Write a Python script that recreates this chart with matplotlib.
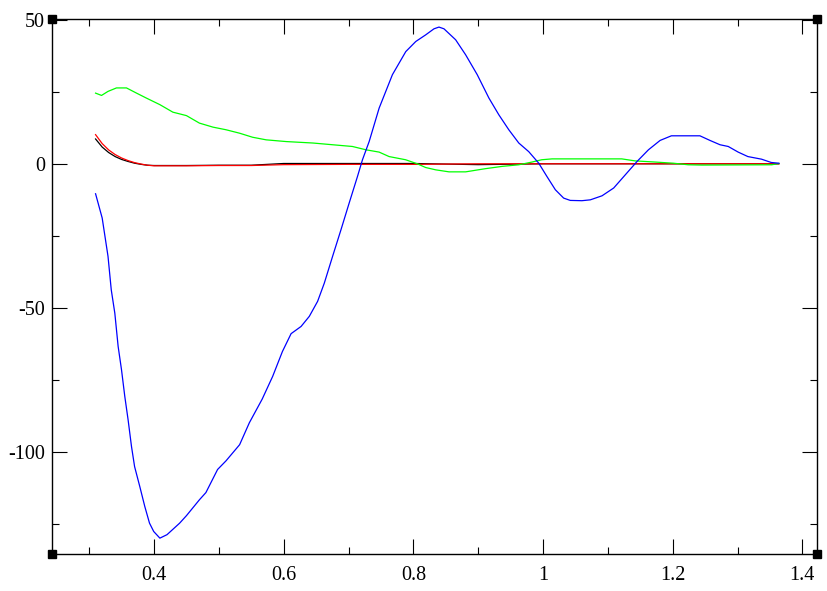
# recreate the xmgrace style line chart -> out.png

import numpy as np
import matplotlib.pyplot as plt

# blue curve
blue_x = [0.3098, 0.320, 0.329, 0.334, 0.3395, 0.3446, 0.3498, 0.3549, 0.360, 0.3652,
          0.370, 0.378, 0.3857, 0.393, 0.3995, 0.409, 0.420, 0.4395, 0.45, 0.47,
          0.48, 0.498, 0.511, 0.532, 0.547, 0.5668, 0.583, 0.598, 0.6114, 0.6268,
          0.6395, 0.6523, 0.6626, 0.6754, 0.6883, 0.701, 0.7138, 0.7215, 0.7318, 0.7472,
          0.7677, 0.7883, 0.8037, 0.819, 0.8318, 0.8395, 0.8472, 0.8652, 0.8806, 0.8985,
          0.9165, 0.9318, 0.9472, 0.9626, 0.978, 0.9934, 1.006, 1.019, 1.0318, 1.042,
          1.060, 1.073, 1.091, 1.109, 1.127, 1.145, 1.1626, 1.1806, 1.198, 1.242,
          1.2575, 1.273, 1.2857, 1.301, 1.316, 1.337, 1.352, 1.3637]
blue_y = [-10.4, -18.8, -32.1, -43.7, -51.8, -63.3, -71.4, -80.7, -88.8, -98.0,
          -105.0, -111.9, -118.8, -124.6, -127.5, -129.8, -128.6, -124.6, -122.0, -116.5,
          -114.0, -106.0, -103.0, -97.4, -89.8, -81.6, -73.7, -65.1, -58.9, -56.4,
          -52.9, -47.7, -41.4, -32.1, -22.9, -13.6, -4.4, 1.4, 7.7, 19.3,
          30.9, 38.9, 42.4, 44.7, 46.8, 47.4, 46.8, 43.0, 37.8, 30.9,
          22.8, 17.0, 11.8, 7.2, 4.2, 0.2, -4.4, -9.0, -11.9, -12.7,
          -12.8, -12.5, -11.1, -8.4, -3.8, 0.8, 4.85, 8.1, 9.7, 9.7,
          8.1, 6.6, 6.0, 4.05, 2.5, 1.6, 0.45, 0.2]

# green curve
green_x = [0.3098, 0.319, 0.329, 0.342, 0.3575, 0.373, 0.388, 0.409, 0.429, 0.45,
           0.470, 0.491, 0.511, 0.532, 0.552, 0.573, 0.604, 0.645, 0.6754, 0.706,
           0.7268, 0.7472, 0.7626, 0.788, 0.806, 0.819, 0.8345, 0.855, 0.8806, 0.911,
           0.937, 0.9626, 0.983, 0.998, 1.014, 1.1215, 1.142, 1.173, 1.201, 1.224,
           1.245, 1.3527, 1.3637]
green_y = [24.5, 23.7, 25.1, 26.3, 26.3, 24.5, 22.8, 20.5, 17.9, 16.7,
           14.1, 12.7, 11.8, 10.6, 9.2, 8.3, 7.7, 7.2, 6.6, 6.0,
           4.85, 4.05, 2.5, 1.4, 0.0, -1.3, -2.1, -2.8, -2.8, -1.7,
           -0.9, -0.35, 0.6, 1.4, 1.7, 1.7, 1.0, 0.6, 0.2, -0.35,
           -0.45, -0.35, 0.1]

# red and black curves
rb_x = [0.3098, 0.32, 0.33, 0.34, 0.35, 0.36, 0.37, 0.38, 0.39, 0.40,
        0.45, 0.50, 0.55, 0.60, 0.70, 0.80, 0.90, 1.00, 1.10, 1.20,
        1.30, 1.3637]
red_y = [10.1, 7.0, 4.8, 3.2, 2.0, 1.1, 0.4, -0.1, -0.5, -0.7,
         -0.7, -0.6, -0.6, -0.3, -0.2, -0.2, 0.0, 0.0, 0.0, 0.0,
         0.0, 0.0]
black_y = [8.6, 5.8, 3.9, 2.5, 1.5, 0.8, 0.2, -0.2, -0.5, -0.6,
           -0.6, -0.5, -0.5, 0.1, 0.1, 0.1, -0.3, 0.0, 0.0, 0.0,
           0.0, 0.0]

x_ticks = [0.4, 0.6, 0.8, 1.0, 1.2, 1.4]
x_labels = ["0.4", "0.6", "0.8", "1", "1.2", "1.4"]
y_ticks = [-100, -50, 0, 50]
y_labels = ["-100", "-50", "0", "50"]

plt.rcParams['font.family'] = ['Liberation Serif', 'DejaVu Serif']

my_dpi = 100
fig = plt.figure(figsize = (827 / my_dpi, 591 / my_dpi), dpi = my_dpi)
ax = fig.add_axes([52 / 827, 1 - 554 / 591, (817 - 52) / 827, (554 - 19) / 591])

ax.plot(rb_x, black_y, color = "black", lw = 0.9)
ax.plot(rb_x, red_y, color = "red", lw = 0.9)
ax.plot(green_x, green_y, color = "#00ff00", lw = 0.9)
ax.plot(blue_x, blue_y, color = "blue", lw = 0.9)

ax.set_xlim(0.2426, 1.4226)
ax.set_ylim(-135.3, 50.2)

ax.set_xticks(x_ticks)
ax.set_xticklabels(x_labels)
ax.set_yticks(y_ticks)
ax.set_yticklabels(y_labels)
ax.set_xticks(np.arange(0.3, 1.41, 0.2), minor = True)
ax.set_yticks([-125, -75, -25, 25], minor = True)

ax.tick_params(which = "both", direction = "in", top = True, right = True, width = 0.8)
ax.tick_params(which = "major", length = 11, labelsize = 14.5)
ax.tick_params(axis = "x", which = "major", pad = 9)
ax.tick_params(axis = "y", which = "major", pad = 5)
ax.tick_params(which = "minor", length = 5)
for s in ax.spines.values() :
    s.set_linewidth(1.0)

# black squares on the frame corners
ax.plot([0, 1, 0, 1], [0, 0, 1, 1], "s", color = "black", ms = 5.5,
        transform = ax.transAxes, clip_on = False)

fig.savefig("out.png", dpi = my_dpi)
